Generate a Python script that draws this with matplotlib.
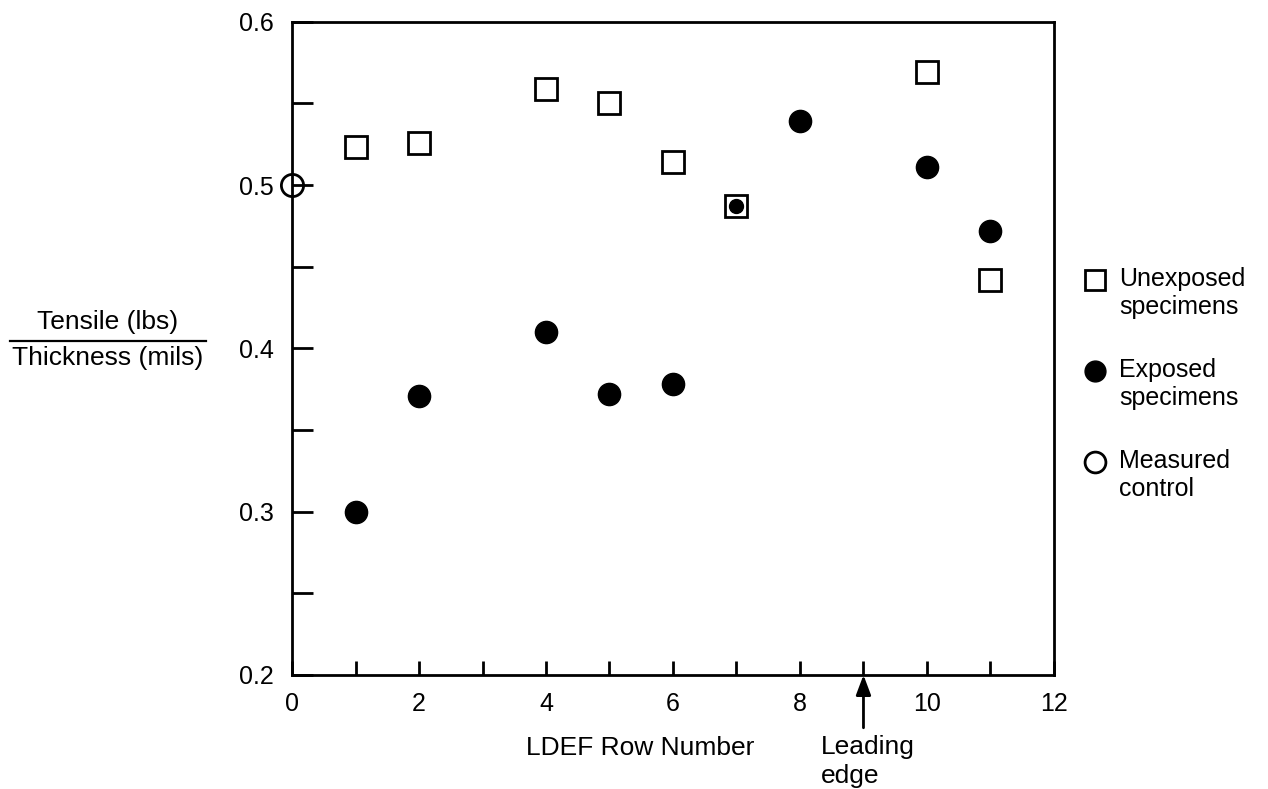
import matplotlib
matplotlib.use("Agg")
import matplotlib.pyplot as plt
from matplotlib.lines import Line2D

plt.rcParams["font.family"] = ["Liberation Sans", "DejaVu Sans"]

# data
unexp_rows = [1, 2, 4, 5, 6, 7, 10, 11]
unexp_vals = [0.523, 0.526, 0.559, 0.550, 0.514, 0.487, 0.569, 0.442]

exp_rows = [1, 2, 4, 5, 6, 8, 10, 11]
exp_vals = [0.300, 0.371, 0.410, 0.372, 0.378, 0.539, 0.511, 0.472]

# exposed specimen drawn inside the row-7 square (smaller dot)
exp_small_rows = [7]
exp_small_vals = [0.487]

control_rows = [0]
control_vals = [0.500]

x_ticks = [0, 2, 4, 6, 8, 10, 12]
y_ticks = [0.2, 0.3, 0.4, 0.5, 0.6]
leading_edge_row = 9

legend_labels = ["Unexposed\nspecimens", "Exposed\nspecimens", "Measured\ncontrol"]

FS = 19
W, H = 1268, 789

fig = plt.figure(figsize=(W / 100, H / 100), dpi=100)
ax = fig.add_axes([0.2303, 0.1445, 0.6009, 0.828])

ax.plot(unexp_rows, unexp_vals, "s", ms=16, mfc="white", mec="black", mew=2.0, ls="none")
ax.plot(exp_rows, exp_vals, "o", ms=16, mfc="black", mec="black", ls="none")
ax.plot(exp_small_rows, exp_small_vals, "o", ms=10, mfc="black", mec="black", ls="none")
ax.plot(control_rows, control_vals, "o", ms=16, mfc="none", mec="black", mew=2.0,
        ls="none", clip_on=False, zorder=5)

ax.set_xlim(0, 12)
ax.set_ylim(0.2, 0.6)
ax.set_xticks(x_ticks)
ax.set_xticks(range(0, 13), minor=True)
ax.set_yticks(y_ticks)
ax.set_yticks([0.25, 0.35, 0.45, 0.55], minor=True)
ax.set_xticklabels([str(t) for t in x_ticks], fontsize=FS - 1)
ax.set_yticklabels([f"{t:.1f}" for t in y_ticks], fontsize=FS - 1)
ax.tick_params(axis="x", which="both", direction="in", length=10, width=2, pad=12)
ax.tick_params(axis="y", which="both", direction="in", length=15, width=2, pad=13)
for s in ax.spines.values():
    s.set_linewidth(2)

ax.set_xlabel("LDEF Row Number", fontsize=FS)
ax.xaxis.set_label_coords((640 - 292) / 762, -(748 - 675) / 653, transform=ax.transAxes)
ax.xaxis.label.set_va("center")

# leading edge arrow under the x-axis
ax.annotate("", xy=(leading_edge_row, 0.2), xycoords="data",
            xytext=(0, -38), textcoords="offset points",
            arrowprops=dict(arrowstyle="-|>,head_length=1.2,head_width=0.45",
                            color="black", lw=2, shrinkA=0, shrinkB=0),
            annotation_clip=False)
ax.annotate("Leading\nedge", xy=(leading_edge_row, 0.2), xycoords="data",
            xytext=(-31, -43), textcoords="offset points",
            ha="left", va="top", fontsize=FS, linespacing=1.28,
            annotation_clip=False)

# fraction-style y label
fig.text(108 / W, 1 - 322 / H, "Tensile (lbs)", ha="center", va="center", fontsize=FS)
fig.text(108 / W, 1 - 358 / H, "Thickness (mils)", ha="center", va="center", fontsize=FS)
fig.add_artist(Line2D([10 / W, 206 / W], [1 - 341 / H, 1 - 341 / H],
                      color="black", lw=1.6, transform=fig.transFigure))

# legend, laid out by hand to the right of the axes
legend_styles = [
    dict(marker="s", ms=14, mfc="white", mec="black", mew=2.0),
    dict(marker="o", ms=15, mfc="black", mec="black"),
    dict(marker="o", ms=15, mfc="white", mec="black", mew=2.0),
]
for i, (lab, st) in enumerate(zip(legend_labels, legend_styles)):
    y0 = 280 + i * 91
    fig.add_artist(Line2D([1095 / W], [1 - y0 / H], ls="none",
                          transform=fig.transFigure, **st))
    fig.text(1119 / W, 1 - (y0 - 13) / H, lab, ha="left", va="top",
             fontsize=18, linespacing=1.22)

fig.savefig("out.png", dpi=100)
